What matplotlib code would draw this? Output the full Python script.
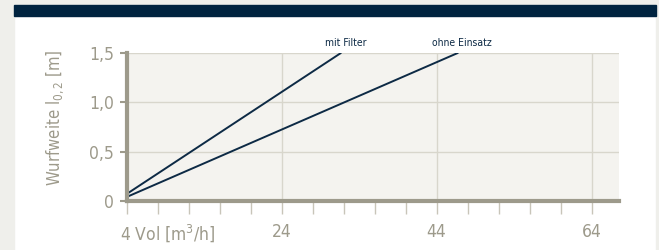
import matplotlib
matplotlib.use('Agg')
import matplotlib.pyplot as plt
from matplotlib.patches import Rectangle

# Daten
vol_filter = [4, 31.7]
weite_filter = [0.07, 1.5]
vol_ohne = [4, 46.8]
weite_ohne = [0.04, 1.5]
xticks_major = [24, 44, 64]
xticks_minor = list(range(4, 68, 4))
yticks = [0, 0.5, 1.0, 1.5]
ylabels = ['0', '0,5', '1,0', '1,5']

grau = '#9d9a8b'
navy = '#0d2a45'

plt.rcParams['font.family'] = ['DejaVu Sans']
plt.rcParams['font.stretch'] = 'condensed'

fig = plt.figure(figsize=(6.59, 2.5), dpi=100)
fig.patch.set_facecolor('white')
# Rahmen
fig.patches.append(Rectangle((0, 0), 14/659, 1, transform=fig.transFigure, color='#efefeb', zorder=0))
fig.patches.append(Rectangle((0, 245/250), 1, 5/250, transform=fig.transFigure, color='#efefeb', zorder=0))
fig.patches.append(Rectangle((656/659, 0), 3/659, 1, transform=fig.transFigure, color='#efefeb', zorder=0))
fig.patches.append(Rectangle((14/659, 234/250), 642/659, 11/250, transform=fig.transFigure, color='#00233f', zorder=1))

ax = fig.add_axes([0.192, 0.196, 0.747, 0.593])
ax.set_facecolor('#f4f3ef')
ax.plot(vol_filter, weite_filter, color=navy, lw=1.4, solid_capstyle='butt')
ax.plot(vol_ohne, weite_ohne, color=navy, lw=1.4, solid_capstyle='butt')

ax.set_xlim(4, 67.5)
ax.set_ylim(0, 1.5)
ax.set_xticks(xticks_minor)
ax.set_xticklabels([])
for x in xticks_major:
    ax.axvline(x, color='#d8d6cc', lw=1, zorder=0)
for y in yticks[1:]:
    ax.axhline(y, color='#d8d6cc', lw=1, zorder=0)
ax.set_yticks(yticks)
ax.set_yticklabels(ylabels)
ax.tick_params(axis='x', length=9, width=1, color='#c8c5b9', direction='out')
ax.tick_params(axis='y', length=5, width=1.5, color=grau, labelcolor=grau, labelsize=12.5, pad=4)

for s in ['top', 'right']:
    ax.spines[s].set_visible(False)
for s in ['left', 'bottom']:
    ax.spines[s].set_color(grau)
    ax.spines[s].set_linewidth(3)

for x in xticks_major:
    ax.text(x, -0.22, str(x), ha='center', va='top', color=grau, fontsize=12.5)
ax.text(3.2, -0.22, '4 Vol [m$^3$/h]', ha='left', va='top', color=grau, fontsize=12.5)

ax.text(32.3, 1.55, 'mit Filter', ha='center', va='bottom', color=navy, fontsize=7.5, clip_on=False)
ax.text(47.3, 1.55, 'ohne Einsatz', ha='center', va='bottom', color=navy, fontsize=7.5, clip_on=False)

fig.text(0.084, 0.53, 'Wurfweite l$_{0,2}$ [m]', rotation=90, ha='center', va='center', color=grau, fontsize=12)

fig.savefig('out.png', dpi=100)
